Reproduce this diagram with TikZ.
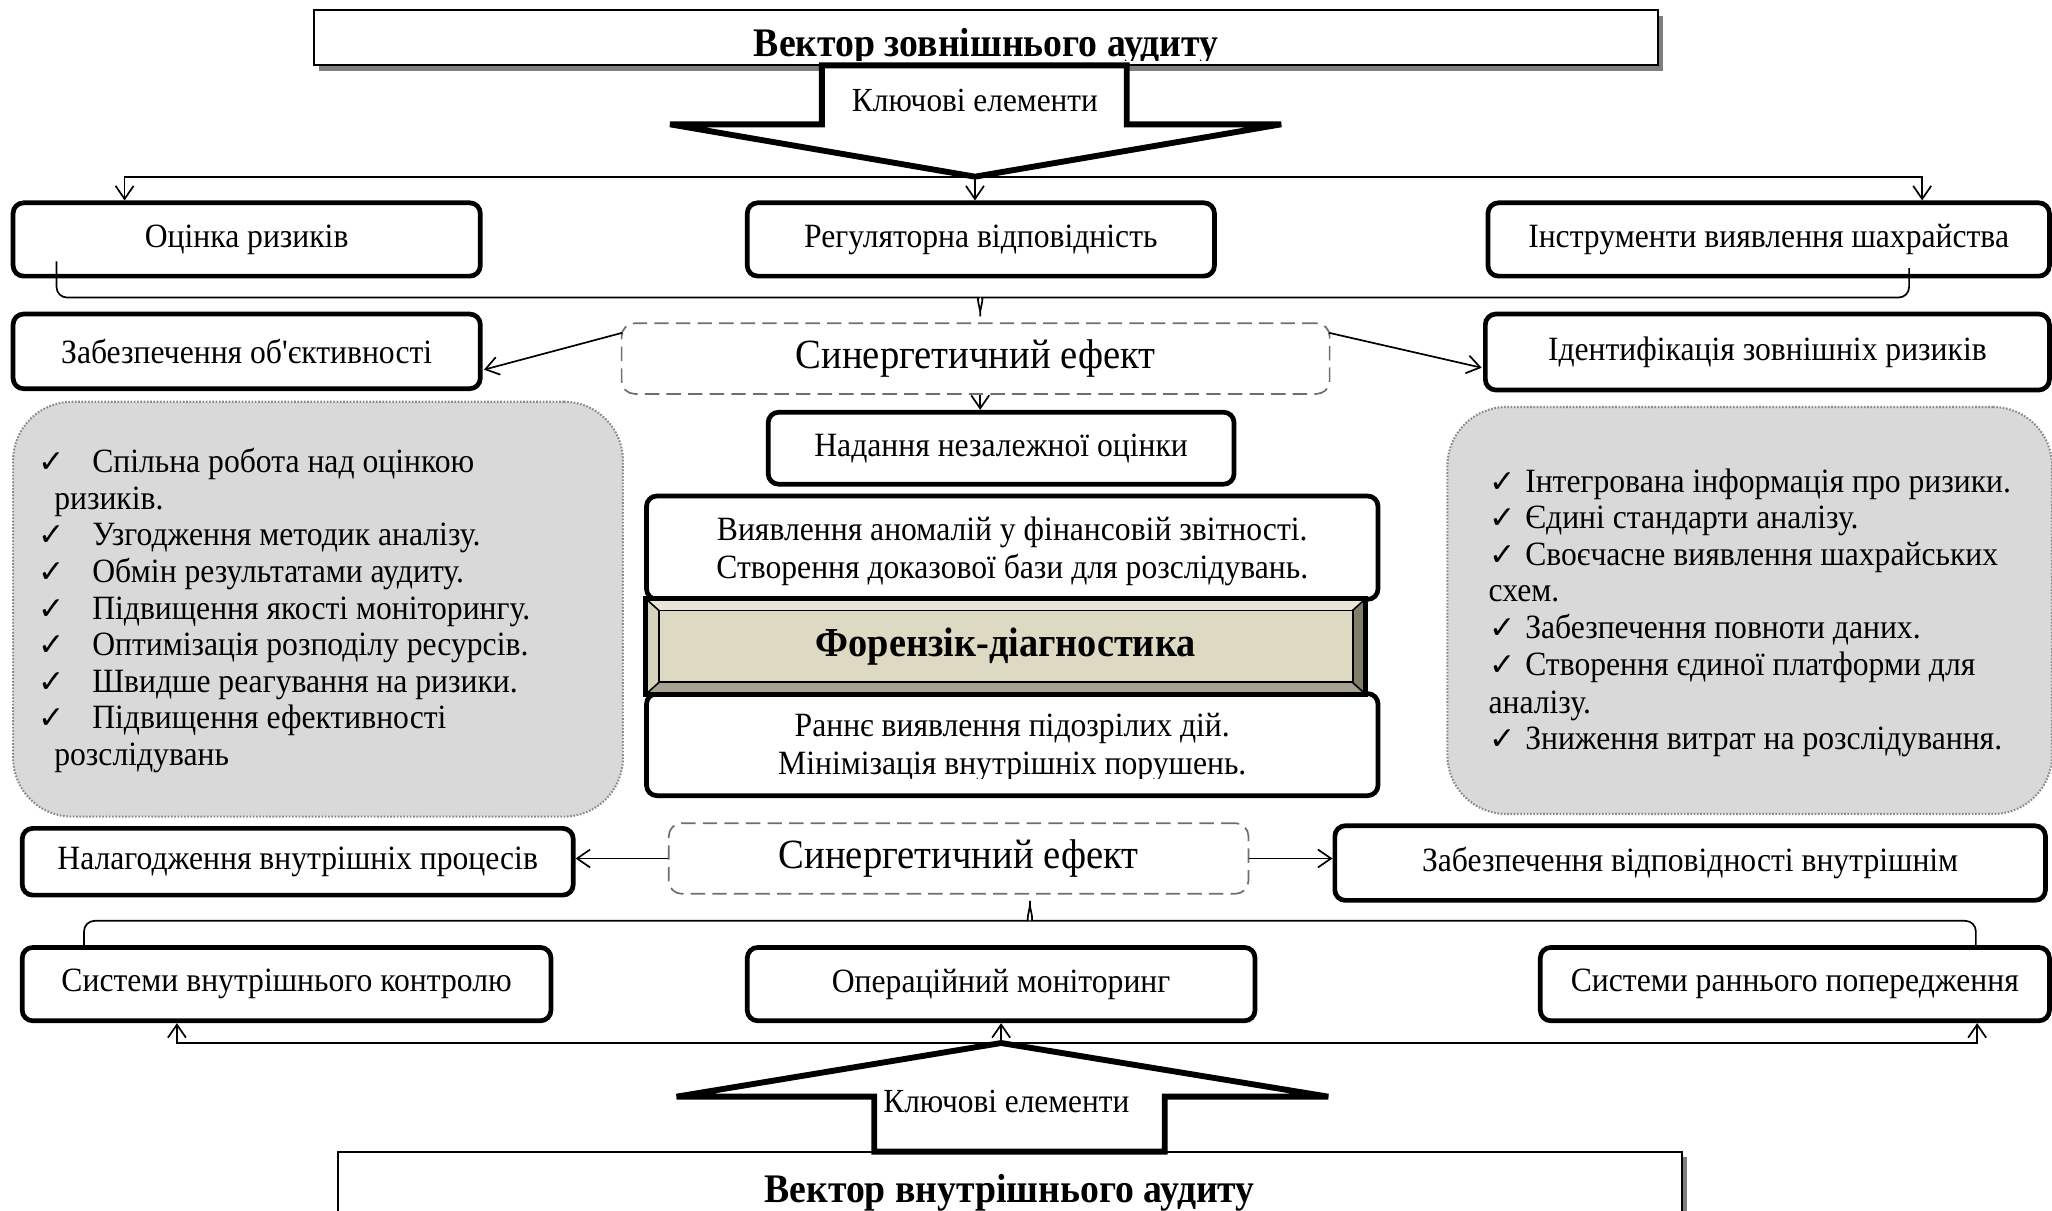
\documentclass[tikz,border=0pt]{standalone}
\usepackage{fontspec}
\setmainfont{Liberation Serif}[FakeStretch=0.93,Ligatures=TeXOff]
\newfontfamily\ckfont{DejaVu Sans}
\usetikzlibrary{arrows.meta,calc}
\newdimen\pxu \pxu=0.4pt
\definecolor{synline}{HTML}{6E6E6E}
\definecolor{panelgray}{HTML}{D9D9D9}
\definecolor{dotgray}{HTML}{8A8A8A}
\definecolor{shadowgray}{HTML}{7F7F7F}
\definecolor{bevtop}{HTML}{E8E6D8}
\definecolor{bevleft}{HTML}{D6D2BC}
\definecolor{bevbot}{HTML}{A6A391}
\definecolor{bevright}{HTML}{817E6C}
\definecolor{bevin}{HTML}{DDD9C3}
\newcommand\ck{{\ckfont\fontsize{9.6pt}{10pt}\selectfont ✓}}
\begin{document}
\begin{tikzpicture}[x=0.4pt,y=-0.4pt,
  base/.style={inner sep=0pt, font=\fontsize{10.4pt}{12pt}\selectfont},
  rbox/.style={base, draw, line width=3.6\pxu, rounded corners=8\pxu, fill=white},
  synbox/.style={draw=synline, line width=1.3\pxu, dash pattern=on 4.4pt off 2.2pt,
    rounded corners=10\pxu, inner sep=0pt, font=\fontsize{12.7pt}{14pt}\selectfont},
  panel/.style={draw=dotgray, fill=panelgray, line width=1.6\pxu,
    dash pattern=on 0.5pt off 0.5pt, rounded corners=45\pxu, inner sep=0pt},
  conn/.style={line width=1.3\pxu},
  arr/.style={conn, -{Straight Barb[length=4pt,width=5.5pt]}},
  bigarrow/.style={draw, fill=white, line width=4.5\pxu, line join=miter},
  titlebox/.style={draw, fill=white, line width=1.5\pxu, inner sep=0pt},
  titletext/.style={inner sep=0pt, anchor=base, font=\bfseries\fontsize{12.4pt}{14pt}\selectfont},
  keytext/.style={inner sep=0pt, font=\fontsize{10.3pt}{12pt}\selectfont},
  item/.style={base, anchor=base west},
  twoline/.style={base, align=center, font=\fontsize{10.4pt}{11.6pt}\selectfont}
]
\useasboundingbox (0,0) rectangle (1568,925);

% ---------- external audit vector ----------
\fill[shadowgray] (244,12) rectangle (1271,54);
\node[titlebox, minimum width=1027\pxu, minimum height=42\pxu] (topbox) at (753.5,29) {};
\begin{scope}
  \clip (topbox.north west) rectangle ($(topbox.east)+(0,17)$);
  \node[titletext] (toptitle) at (753.5,43) {Вектор зовнішнього аудиту};
\end{scope}
\draw[bigarrow] (628,50) -- (861,50) -- (861,95) -- (979,95) -- (745,135)
  -- (512,95) -- (628,95) -- cycle;
\coordinate (tipA) at (745,135);
\node[keytext] (keyA) at (745,77) {Ключові елементи};

% ---------- first row ----------
\node[rbox, minimum width=357\pxu, minimum height=56\pxu] (b1) at (188.5,183) {Оцінка ризиків};
\node[rbox, minimum width=357\pxu, minimum height=56\pxu] (b2) at (749.5,183) {Регуляторна відповідність};
\node[rbox, minimum width=429\pxu, minimum height=56\pxu] (b3) at (1351.5,183) {Інструменти виявлення шахрайства};

\draw[arr] (tipA) -| ($(b1.north west)+(87,0)$);
\draw[arr] (tipA) -- (tipA |- b2.north);
\draw[arr] (tipA) -| ($(b3.north east)+(-99,0)$);

% ---------- synergy (external) ----------
\node[rbox, minimum width=357\pxu, minimum height=57\pxu] (b4) at (188.5,268.5) {Забезпечення об'єктивності};
\node[rbox, minimum width=431\pxu, minimum height=58\pxu] (b5) at (1350.5,269) {Ідентифікація зовнішніх ризиків};
\node[synbox, minimum width=541\pxu, minimum height=54\pxu] (syn1) at (745.5,274) {Синергетичний ефект};
\coordinate (cusp1) at ($(syn1.north)+(3.5,0)$);

\draw[conn, rounded corners=8\pxu] ($(b1.south west)+(35,-13)$) |- ($(cusp1)+(-9,-19)$)
  .. controls ($(cusp1)+(-3,-19)$) and ($(cusp1)+(0,-10)$) .. (cusp1)
  .. controls ($(cusp1)+(0,-10)$) and ($(cusp1)+(3,-19)$) .. ($(cusp1)+(9,-19)$)
  -| ($(b3.south east)+(-109,-8)$);

\draw[arr] ($(syn1.north west)+(1,8)$) -- ($(b4.east)+(1,14)$);
\draw[arr] ($(syn1.north east)+(-1,8)$) -- ($(b5.west)+(-1,12)$);

\node[rbox, minimum width=356\pxu, minimum height=55\pxu] (b6) at (765,342.5) {Надання незалежної оцінки};
\draw[arr] (syn1.south -| cusp1) -- (cusp1 |- b6.north);

% ---------- side panels ----------
\node[panel, minimum width=466\pxu, minimum height=317\pxu] (lpanel) at (243,465.5) {};
\node[panel, minimum width=462\pxu, minimum height=311\pxu] (rpanel) at (1337,466.5) {};

\node[item] (lc1) at (29,361) {\ck};
\node[item] (lt1) at (70,361) {Спільна робота над оцінкою};
\node[item] (lt1b) at (41,389) {ризиків.};
\node[item] (lc2) at (29,417) {\ck};
\node[item] (lt2) at (70,417) {Узгодження методик аналізу.};
\node[item] (lc3) at (29,445) {\ck};
\node[item] (lt3) at (70,445) {Обмін результатами аудиту.};
\node[item] (lc4) at (29,473) {\ck};
\node[item] (lt4) at (70,473) {Підвищення якості моніторингу.};
\node[item] (lc5) at (29,501) {\ck};
\node[item] (lt5) at (70,501) {Оптимізація розподілу ресурсів.};
\node[item] (lc6) at (29,529) {\ck};
\node[item] (lt6) at (70,529) {Швидше реагування на ризики.};
\node[item] (lc7) at (29,557) {\ck};
\node[item] (lt7) at (70,557) {Підвищення ефективності};
\node[item] (lt7b) at (41,585) {розслідувань};

\node[item] (rc1) at (1138,376) {\ck};
\node[item] (rt1) at (1165,376) {Інтегрована інформація про ризики.};
\node[item] (rc2) at (1138,404) {\ck};
\node[item] (rt2) at (1165,404) {Єдині стандарти аналізу.};
\node[item] (rc3) at (1138,432) {\ck};
\node[item] (rt3) at (1165,432) {Своєчасне виявлення шахрайських};
\node[item] (rt3b) at (1137,460) {схем.};
\node[item] (rc4) at (1138,488) {\ck};
\node[item] (rt4) at (1165,488) {Забезпечення повноти даних.};
\node[item] (rc5) at (1138,516) {\ck};
\node[item] (rt5) at (1165,516) {Створення єдиної платформи для};
\node[item] (rt5b) at (1137,545) {аналізу.};
\node[item] (rc6) at (1138,573) {\ck};
\node[item] (rt6) at (1165,573) {Зниження витрат на розслідування.};

% ---------- central stack ----------
\node[rbox, minimum width=559\pxu, minimum height=79\pxu] (b7) at (773.5,418.5) {};
\begin{scope}
  \clip ($(b7.north west)+(3,3)$) rectangle ($(b7.south east)+(-3,-11)$);
  \node[twoline] (b7t) at (773.5,421.5) {Виявлення аномалій у фінансовій звітності.\\Створення доказової бази для розслідувань.};
\end{scope}
\node[rbox, minimum width=559\pxu, minimum height=78\pxu] (b8) at (773.5,569) {};
\begin{scope}
  \clip ($(b8.north west)+(3,3)$) rectangle ($(b8.south east)+(-3,-15)$);
  \node[twoline] (b8t) at (773.5,571) {Раннє виявлення підозрілих дій.\\Мінімізація внутрішніх порушень.};
\end{scope}

% bevelled core block
\node[inner sep=0pt, minimum width=549\pxu, minimum height=72\pxu] (fd) at (768.5,494) {};
\fill[bevtop] (fd.north west) -- (fd.north east) -- ($(fd.north east)+(-10,9)$) -- ($(fd.north west)+(10,9)$) -- cycle;
\fill[bevleft] (fd.north west) -- ($(fd.north west)+(10,9)$) -- ($(fd.south west)+(10,-9)$) -- (fd.south west) -- cycle;
\fill[bevbot] (fd.south west) -- ($(fd.south west)+(10,-9)$) -- ($(fd.south east)+(-10,-9)$) -- (fd.south east) -- cycle;
\fill[bevright] (fd.north east) -- ($(fd.north east)+(-10,9)$) -- ($(fd.south east)+(-10,-9)$) -- (fd.south east) -- cycle;
\draw[fill=bevin, line width=1.5\pxu] ($(fd.north west)+(10,9)$) rectangle ($(fd.south east)+(-10,-9)$);
\draw[line width=1.2\pxu] (fd.north west) -- ($(fd.north west)+(10,9)$)
  (fd.north east) -- ($(fd.north east)+(-10,9)$)
  (fd.south west) -- ($(fd.south west)+(10,-9)$)
  (fd.south east) -- ($(fd.south east)+(-10,-9)$);
\draw[line width=4\pxu] (fd.north west) rectangle (fd.south east);
\node[inner sep=0pt, font=\bfseries\fontsize{12.6pt}{14pt}\selectfont] (fdt) at (768.5,494) {Форензік-діагностика};

% ---------- synergy (internal) ----------
\node[rbox, minimum width=421\pxu, minimum height=51\pxu] (b9) at (227.5,658.5) {Налагодження внутрішніх процесів};
\node[synbox, minimum width=443\pxu, minimum height=54\pxu] (syn2) at (732.5,656) {Синергетичний ефект};
\node[rbox, minimum width=543\pxu, minimum height=57\pxu] (b10) at (1291.5,659.5) {Забезпечення відповідності внутрішнім};
\draw[arr] (syn2.west) -- (syn2.west -| b9.east);
\draw[arr] (syn2.east) -- (syn2.east -| b10.west);

% ---------- bottom row ----------
\node[rbox, minimum width=404\pxu, minimum height=56\pxu] (b11) at (219,752) {Системи внутрішнього контролю};
\node[rbox, minimum width=388\pxu, minimum height=56\pxu] (b12) at (765,752) {Операційний моніторинг};
\node[rbox, minimum width=389\pxu, minimum height=56\pxu] (b13) at (1371.5,752) {Системи раннього попередження};

\coordinate (cusp2) at ($(syn2.south)+(54.5,0)$);
\draw[conn, rounded corners=8\pxu] ($(b11.north west)+(49,0)$) |- ($(cusp2)+(-9,20)$)
  .. controls ($(cusp2)+(-3,20)$) and ($(cusp2)+(0,10)$) .. (cusp2)
  .. controls ($(cusp2)+(0,10)$) and ($(cusp2)+(3,20)$) .. ($(cusp2)+(9,20)$)
  -| ($(b13.north east)+(-58,0)$);

% ---------- internal audit vector ----------
\fill[shadowgray] (262,884) rectangle (1289,938);
\node[titlebox, minimum width=1027\pxu, minimum height=54\pxu] (botbox) at (771.5,907) {};
\node[titletext] (bottitle) at (771.5,919) {Вектор внутрішнього аудиту};
\draw[bigarrow] (765,797) -- (1015,838) -- (890,838) -- (890,880) -- (668,880)
  -- (668,838) -- (517,838) -- cycle;
\coordinate (tipB) at (765,797);
\node[keytext] (keyB) at (769,842) {Ключові елементи};

\draw[arr] (tipB) -| ($(b11.south west)+(120,0)$);
\draw[arr] (tipB) -- (tipB |- b12.south);
\draw[arr] (tipB) -| ($(b13.south east)+(-57,0)$);
\end{tikzpicture}
\end{document}
